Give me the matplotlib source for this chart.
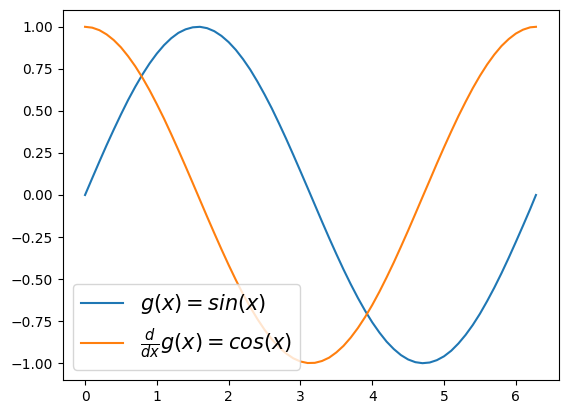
import matplotlib
matplotlib.use("Agg")
import matplotlib.pyplot as plt

# x positions (0 .. 2*pi)
x = [0.0, 0.1, 0.2, 0.3, 0.4, 0.5, 0.6, 0.7, 0.8, 0.9,
     1.0, 1.1, 1.2, 1.3, 1.4, 1.5, 1.6, 1.7, 1.8, 1.9,
     2.0, 2.1, 2.2, 2.3, 2.4, 2.5, 2.6, 2.7, 2.8, 2.9,
     3.0, 3.1, 3.2, 3.3, 3.4, 3.5, 3.6, 3.7, 3.8, 3.9,
     4.0, 4.1, 4.2, 4.3, 4.4, 4.5, 4.6, 4.7, 4.8, 4.9,
     5.0, 5.1, 5.2, 5.3, 5.4, 5.5, 5.6, 5.7, 5.8, 5.9,
     6.0, 6.1, 6.2, 6.28]

# g(x) = sin(x)
g = [0.000, 0.100, 0.199, 0.296, 0.389, 0.479, 0.565, 0.644, 0.717, 0.783,
     0.841, 0.891, 0.932, 0.964, 0.985, 0.997, 1.000, 0.992, 0.974, 0.946,
     0.909, 0.863, 0.808, 0.746, 0.675, 0.598, 0.516, 0.427, 0.335, 0.239,
     0.141, 0.042, -0.058, -0.158, -0.256, -0.351, -0.443, -0.530, -0.612, -0.688,
     -0.757, -0.818, -0.872, -0.916, -0.952, -0.978, -0.994, -1.000, -0.996, -0.982,
     -0.959, -0.926, -0.883, -0.832, -0.773, -0.706, -0.631, -0.551, -0.465, -0.374,
     -0.279, -0.182, -0.083, 0.000]

# d/dx g(x) = cos(x)
dg = [1.000, 0.995, 0.980, 0.955, 0.921, 0.878, 0.825, 0.765, 0.697, 0.622,
      0.540, 0.454, 0.362, 0.267, 0.170, 0.071, -0.029, -0.129, -0.227, -0.323,
      -0.416, -0.505, -0.589, -0.666, -0.737, -0.801, -0.857, -0.904, -0.942, -0.971,
      -0.990, -0.999, -0.998, -0.987, -0.967, -0.936, -0.897, -0.848, -0.791, -0.726,
      -0.654, -0.575, -0.490, -0.401, -0.307, -0.211, -0.112, -0.012, 0.087, 0.187,
      0.284, 0.378, 0.469, 0.554, 0.635, 0.709, 0.776, 0.835, 0.886, 0.927,
      0.960, 0.983, 0.997, 1.000]

fig = plt.figure(figsize=(5.68, 4.13), dpi=100)
ax = fig.add_axes([62.5 / 568, 33 / 413, 496 / 568, 370 / 413])

ax.plot(x, g, label=r"$g(x) = sin(x)$")
ax.plot(x, dg, label=r"$\frac{d}{dx}g(x) = cos(x)$")
ax.legend(fontsize=15)

fig.savefig("out.png", dpi=100)
